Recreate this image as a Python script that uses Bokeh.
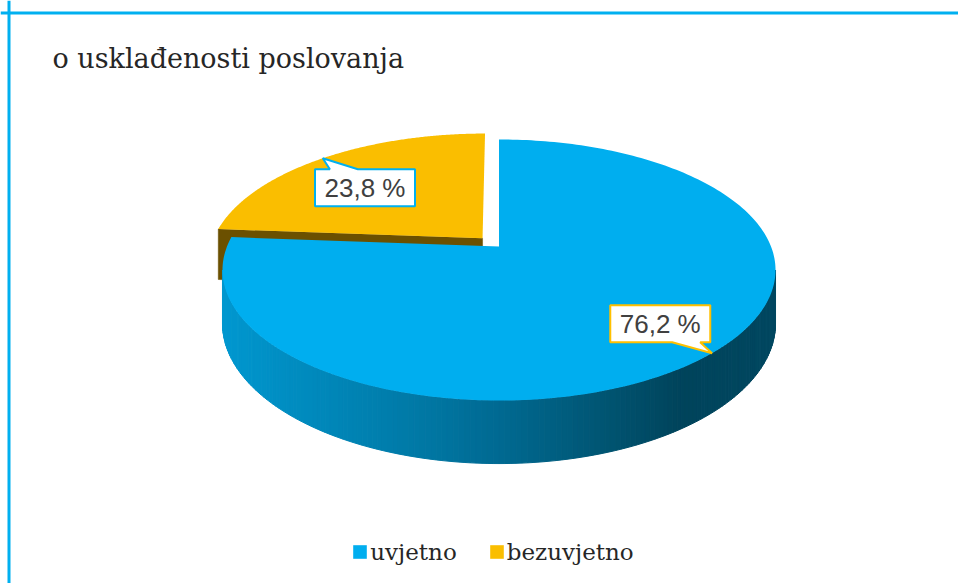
import numpy as np
from bokeh.plotting import figure
from bokeh.models import Range1d, ColumnDataSource, Legend, LegendItem, Label, Span
from bokeh.core.properties import value
from bokeh.embed import file_html
from bokeh.resources import INLINE

# ---------------- data ----------------
title_text = "o usklađenosti poslovanja"
categories = ["uvjetno", "bezuvjetno"]
values = [76.2, 23.8]

# ---------------- styling ----------------
top_colors = ["#00AEEF", "#FABE00"]
cut_colors = ["#004A66", "#6B5000"]
side_stops = [
    [(222, (0, 152, 208)), (400, (0, 124, 170)), (500, (0, 106, 146)),
     (600, (0, 86, 116)), (680, (0, 68, 92)), (780, (0, 72, 97))],
    [(0, (107, 80, 0)), (960, (107, 80, 0))],
]
explode = [0.0, 0.09]
label_radius = [0.767, 0.65]
label_angle_shift = [1.3, 4.3]
label_border = ["#FFC000", "#00B0F0"]

# frame maps 1:1 to page pixels
W, H = 958, 583
X0, X1, Y0, Y1 = 0, 958, 0, 583

CX, CY = 498.5, 246.0
RX, RY = 272.0, 126.3
K = 0.18       # perspective factor
D = 51.7       # thickness


def proj(u, v, h=0.0):
    u = np.asarray(u, float)
    v = np.asarray(v, float)
    f = 1.0 + K * v
    return CX + RX * u / f, CY + (-RY * v + D * h) / f


total = float(sum(values))
starts, ends = [], []
a = 90.0
for val in values:
    starts.append(a)
    a -= 360.0 * val / total
    ends.append(a)
mids = [(s + e) / 2.0 for s, e in zip(starts, ends)]
offs = [(explode[i] * np.cos(np.radians(mids[i])), explode[i] * np.sin(np.radians(mids[i])))
        for i in range(len(values))]

p = figure(width=W, height=H, output_backend="svg", toolbar_location=None,
           x_range=Range1d(X0, X1), y_range=Range1d(Y1, Y0),
           x_axis_location=None, y_axis_location=None, min_border=0)
p.grid.visible = False
p.outline_line_color = None
p.background_fill_color = "white"
p.border_fill_color = "white"

# container border (top + left only visible in reference)
p.add_layout(Span(location=8.5, dimension="height", line_color="#00B0F0", line_width=3))
p.add_layout(Span(location=12.5, dimension="width", line_color="#00B0F0", line_width=3))

# ---- radial cut faces of exploded slices ----
cut_xs, cut_ys, cut_c = [], [], []
for i in range(len(values)):
    if explode[i] <= 0:
        continue
    ou, ov = offs[i]
    ang = np.radians(starts[i])
    us = np.array([ou, ou + np.cos(ang), ou + np.cos(ang), ou])
    vs = np.array([ov, ov + np.sin(ang), ov + np.sin(ang), ov])
    hs = np.array([0, 0, 1, 1])
    x, y = proj(us, vs, hs)
    cut_xs.append(list(x)); cut_ys.append(list(y)); cut_c.append(cut_colors[i])
if cut_xs:
    p.patches(xs=cut_xs, ys=cut_ys, fill_color=cut_c, line_color=cut_c, line_width=0.5)


# ---- outer side walls (shaded strips) ----
def shade(i, x):
    st = side_stops[i]
    xs_ = [s[0] for s in st]
    r = np.interp(x, xs_, [s[1][0] for s in st])
    g = np.interp(x, xs_, [s[1][1] for s in st])
    b = np.interp(x, xs_, [s[1][2] for s in st])
    return "#%02x%02x%02x" % (int(r), int(g), int(b))


lo = -180.0 + np.degrees(np.arcsin(K))
hi = -np.degrees(np.arcsin(K))
side_xs, side_ys, side_c = [], [], []
N = 160
for i in range(len(values)):
    ou, ov = offs[i]
    a_lo, a_hi = min(starts[i], ends[i]), max(starts[i], ends[i])
    for sh in (-360.0, 0.0, 360.0):
        s0, s1 = max(a_lo + sh, lo), min(a_hi + sh, hi)
        if s1 <= s0:
            continue
        th = np.radians(np.linspace(s0, s1, N + 1))
        for j in range(N):
            uu = ou + np.cos([th[j], th[j + 1], th[j + 1], th[j]])
            vv = ov + np.sin([th[j], th[j + 1], th[j + 1], th[j]])
            x, y = proj(uu, vv, np.array([0, 0, 1, 1]))
            side_xs.append(list(x)); side_ys.append(list(y))
            side_c.append(shade(i, float(np.mean(x))))
if side_xs:
    p.patches(xs=side_xs, ys=side_ys, fill_color=side_c, line_color=side_c, line_width=1)

# ---- top faces ----
top_xs, top_ys = [], []
for i in range(len(values)):
    ou, ov = offs[i]
    th = np.radians(np.linspace(starts[i], ends[i], 240))
    u = np.concatenate([[0.0], np.cos(th)]) + ou
    v = np.concatenate([[0.0], np.sin(th)]) + ov
    x, y = proj(u, v)
    top_xs.append(list(x)); top_ys.append(list(y))
top_src = ColumnDataSource(dict(xs=top_xs, ys=top_ys, color=top_colors, cat=categories))
top_r = p.patches(xs="xs", ys="ys", fill_color="color", line_color=None, source=top_src)

# ---- data label callouts ----
BW, BH = 100.0, 37.0
TAIL = 28.0
box_xs, box_ys, lx, ly, ltxt = [], [], [], [], []
for i in range(len(values)):
    ou, ov = offs[i]
    m = np.radians(mids[i])
    ml = np.radians(mids[i] + label_angle_shift[i])
    ax, ay = proj(ou + label_radius[i] * np.cos(ml), ov + label_radius[i] * np.sin(ml))
    tx, ty = proj(ou + np.cos(m), ov + np.sin(m))
    ax, ay, tx, ty = float(ax), float(ay), float(tx), float(ty)
    l, r, t, b = ax - BW / 2, ax + BW / 2, ay - BH / 2, ay + BH / 2
    bc = min(max(ax + 0.5 * (tx - ax), l + TAIL / 2 + 4), r - TAIL / 2 - 4)
    if ty < t:
        px = [l, bc - TAIL / 2, tx, bc + TAIL / 2, r, r, l]
        py = [t, t, ty, t, t, b, b]
    else:
        px = [l, r, r, bc + TAIL / 2, tx, bc - TAIL / 2, l]
        py = [t, t, b, b, ty, b, b]
    box_xs.append(px); box_ys.append(py)
    lx.append(ax); ly.append(ay)
    ltxt.append(("%.1f" % values[i]).replace(".", ",") + " %")

p.patches(xs=box_xs, ys=box_ys, fill_color="white", line_color=label_border, line_width=2)
p.text(x=lx, y=ly, text=ltxt, text_font=value("Liberation Sans"), text_font_size="26px",
       text_color="#404040", text_align="center", text_baseline="middle")

# ---- title ----
p.add_layout(Label(x=52, y=57.5, text=title_text, text_font="DejaVu Serif",
                   text_font_size="27px", text_color="#262626", text_baseline="alphabetic"))

# ---- legend ----
legend = Legend(items=[LegendItem(label=categories[i], renderers=[top_r], index=i)
                       for i in range(len(categories))],
                location=(351.3, 18.5), orientation="horizontal",
                glyph_width=17, glyph_height=17, label_standoff=2, spacing=31,
                padding=0, margin=0, border_line_color=None, background_fill_alpha=0,
                label_text_font="DejaVu Serif", label_text_font_size="23px",
                label_text_color="#262626")
p.add_layout(legend)

open("out.html", "w").write(file_html(p, INLINE))
